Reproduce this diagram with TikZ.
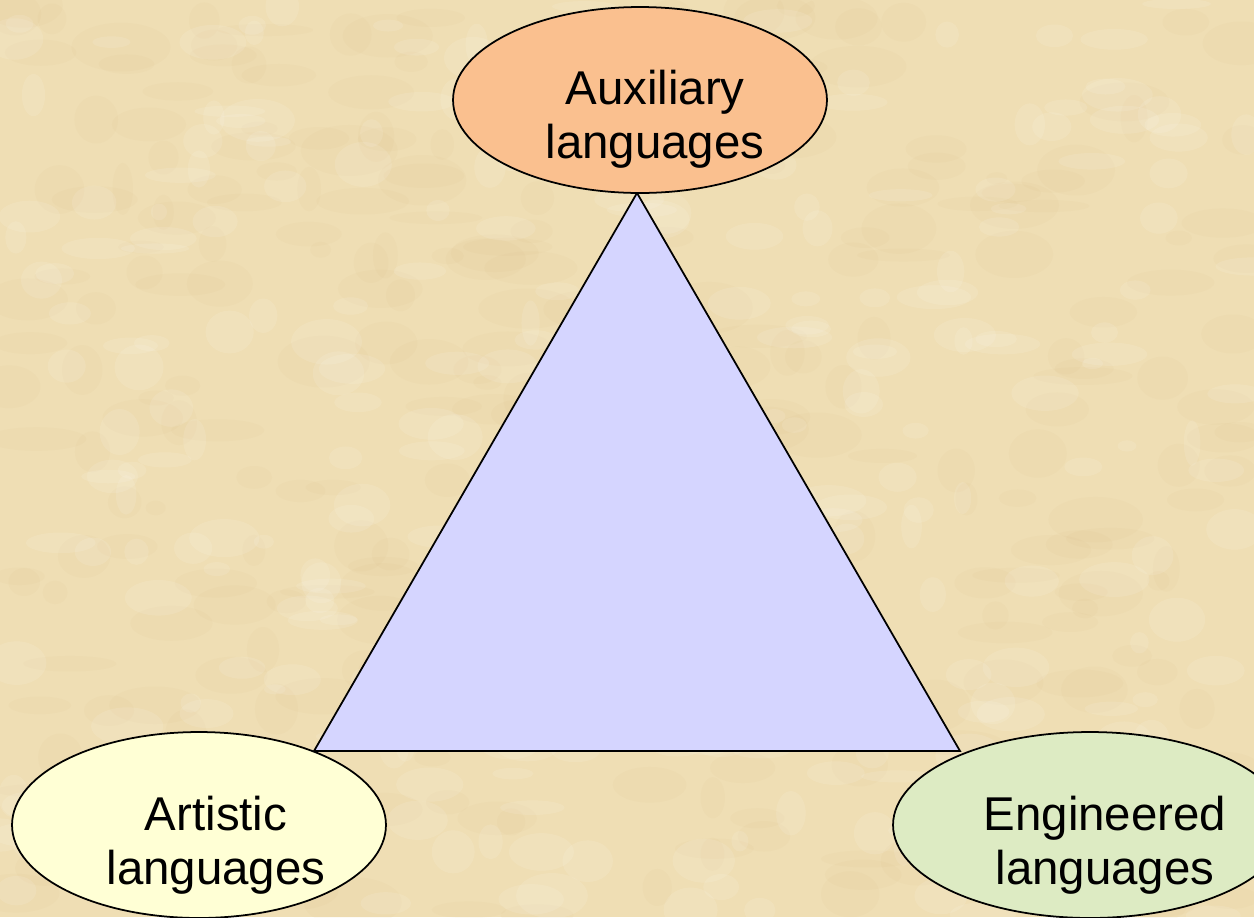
\documentclass[tikz,border=0pt]{standalone}
\usepackage{fontspec}
\setmainfont{Liberation Sans}
\usetikzlibrary{shapes.geometric,positioning}

\definecolor{parchment}{RGB}{239,222,180}
\definecolor{parchdark}{RGB}{214,182,128}
\definecolor{trianglefill}{RGB}{213,213,255}
\definecolor{auxfill}{RGB}{250,192,143}
\definecolor{artfill}{RGB}{255,255,213}
\definecolor{engfill}{RGB}{221,235,195}

\tikzset{
	bubble/.style={ellipse, draw=black, line width=1pt, inner sep=0pt,
		minimum width=7.48cm, minimum height=3.72cm},
	bubbletext/.style={align=center, inner sep=0pt,
		font=\fontsize{27}{31}\selectfont},
}

\begin{document}
\begin{tikzpicture}[x=0.02cm, y=-0.02cm]

	% ------------------------------------------------
	% Page size and parchment background
	\useasboundingbox (0,0) rectangle (1254,917);
	\clip (0,0) rectangle (1254,917);
	\fill[parchment] (0,0) rectangle (1254,917);

	\pgfmathsetseed{11}
	\foreach \i in {1,...,300}{
		\fill[parchdark, opacity=0.07] ({1254*rnd},{917*rnd})
			ellipse [x radius={10+40*rnd}, y radius={6+20*rnd}];
	}
	\foreach \i in {1,...,300}{
		\fill[white, opacity=0.10] ({1254*rnd},{917*rnd})
			ellipse [x radius={8+30*rnd}, y radius={5+18*rnd}];
	}

	% ------------------------------------------------
	% Triangle corners
	\coordinate (Apex)  at (637,193);
	\coordinate (Left)  at (314,751);
	\coordinate (Right) at (960,751);

	\draw[fill=trianglefill, line width=1pt, line join=miter]
		(Apex) -- (Left) -- (Right) -- cycle;

	% ----------------
	% Ellipses
	\node[bubble, fill=auxfill] (Aux) at (640,100) {};
	\node[bubble, fill=artfill] (Art) at (199,825) {};
	\node[bubble, fill=engfill, minimum width=7.88cm] (Eng) at (1090,825) {};

	\node[bubbletext] (AuxText) at (655,119) {Auxiliary\\languages};
	\node[bubbletext] (ArtText) at (216,845) {Artistic\\languages};
	\node[bubbletext] (EngText) at (1105,845) {Engineered\\languages};

\end{tikzpicture}
\end{document}
